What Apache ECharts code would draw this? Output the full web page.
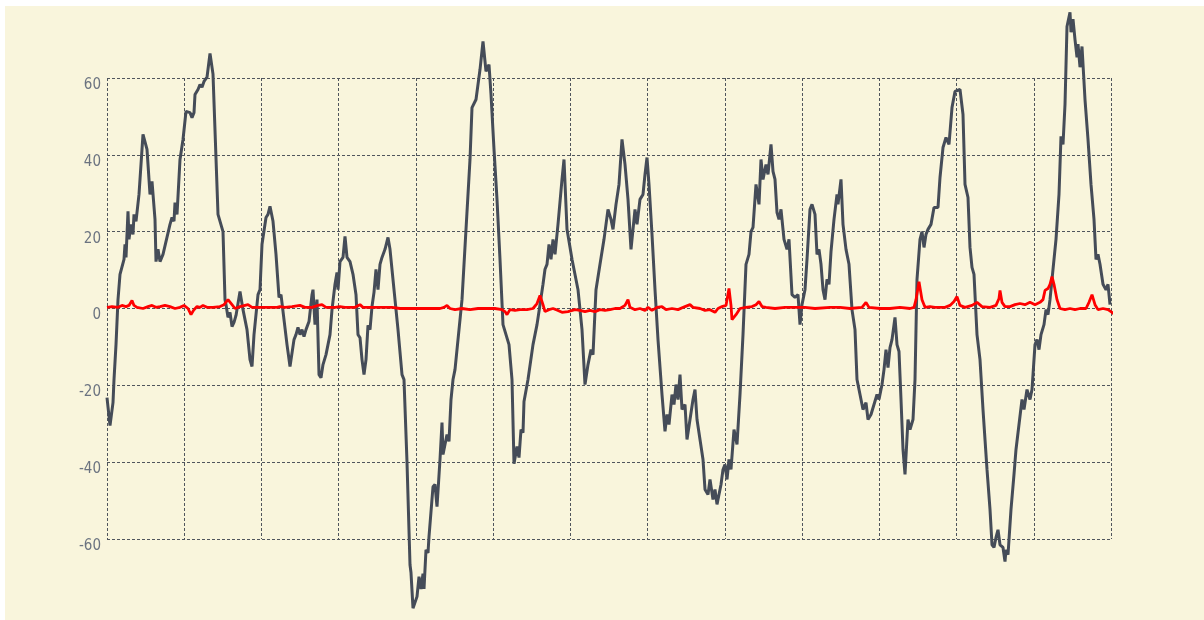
<!DOCTYPE html>
<html>
<head>
<meta charset="utf-8">
<script src="https://cdn.jsdelivr.net/npm/echarts@6/dist/echarts.min.js"></script>
<style>
  html, body { margin: 0; padding: 0; background: #ffffff; }
  #chart { position: absolute; left: 5px; top: 6px; width: 1199px; height: 614px; background: #f9f5dc; }
</style>
</head>
<body>
<div id="chart"></div>
<script>
// Sample range and split count of the horizontal axis
const sampleMax = 1004;
const xSplits = 13;

// Vertical axis ticks
const yTicks = [-60, -40, -20, 0, 20, 40, 60];

// Main signal: [sample, value]
const signal = [
  [0,-23.2],[3,-30.5],[6,-24.5],[7,-18.5],[9,-9.4],[11,2.3],[13,8.9],[17,12.8],[18,16.7],[19,13.3],
  [21,25.3],[22,18],[24,21.9],[26,19.3],[27,24.5],[29,22.7],[32,29.7],[36,45.3],[40,41.4],[43,29.7],
  [45,33.1],[48,23.2],[49,12.2],[51,15.4],[53,12.2],[56,14.1],[63,21.9],[65,23.7],[67,22.7],[68,27.6],
  [70,24.5],[71,29.2],[73,38.8],[76,44],[79,51.3],[83,51],[85,49.7],[87,51],[88,55.7],[91,57],
  [93,58.3],[95,57.6],[97,59.1],[100,60.2],[103,66.4],[106,61],[111,24.5],[116,20],[118,2.3],[119,1],
  [121,-2.3],[123,-1],[125,-4.7],[127,-3.6],[129,-1.8],[131,-2.3],[133,4.4],[136,-0.3],[140,-5.5],[143,-13.3],
  [145,-15.1],[147,-6.8],[149,-6.8],[151,3.6],[153,4.9],[155,16.7],[157,16.4],[159,23.7],[161,24.5],[163,26.6],
  [166,22.7],[169,14.1],[172,2.9],[174,3.6],[177,-2.9],[180,-9.4],[183,-15.1],[185,-14.6],[187,-8.1],[189,-6.8],
  [191,-4.9],[193,-6.8],[195,-5.5],[197,-7.3],[199,-5.5],[202,-3.4],[205,3.6],[206,4.9],[208,-4.2],[210,2.3],
  [212,-17.2],[214,-18],[216,-14.6],[219,-12],[221,-9.4],[223,-6.8],[225,-0.3],[228,6.3],[230,9.4],[231,4.9],
  [233,12.2],[236,13.3],[238,18.8],[240,13.3],[243,12.2],[246,8.9],[249,3.6],[251,-6.8],[253,-7.6],[255,-13.3],
  [257,-17.2],[259,-13.3],[261,-4.4],[263,-5.5],[265,0.5],[267,4.2],[269,10.2],[271,4.9],[273,11.5],[275,13.3],
  [278,15.4],[281,18.5],[283,15.4],[287,4.9],[291,-5.5],[295,-17.2],[297,-18.5],[300,-40],[303,-66.7],[304,-68.8],
  [306,-78],[310,-75],[312,-69.8],[314,-73],[316,-69],[317,-73],[319,-62.8],[321,-63.6],[322,-59.4],[326,-46.4],
  [328,-45.8],[330,-51.6],[333,-39.3],[335,-29.7],[336,-38],[340,-32.8],[342,-34.6],[344,-23.7],[346,-18.5],[348,-15.9],
  [351,-8.1],[355,2.3],[359,20.6],[363,38.8],[365,52.3],[369,54.4],[373,62.2],[376,69.5],[379,61.7],[382,63.5],
  [384,55.7],[387,41.4],[390,28.4],[393,12.8],[396,-4.2],[399,-6.8],[402,-9.4],[405,-18.5],[407,-40.4],[410,-35.9],
  [412,-38.8],[414,-31.5],[416,-32.3],[417,-24.2],[419,-23.7],[421,-18.5],[426,-9.4],[430,-4.2],[433,1],[436,6.3],
  [438,10.2],[440,11.5],[442,16.7],[444,12.8],[446,18],[448,14.1],[451,21.9],[455,33.6],[457,38.8],[460,20.6],
  [465,12.8],[471,4.9],[475,-5.5],[478,-19.8],[481,-14.6],[484,-10.7],[486,-12],[489,4.9],[493,11.5],[497,18],
  [501,25.8],[504,23.2],[506,20.6],[509,27.1],[512,32.3],[515,44],[518,37.5],[521,28.4],[524,15.4],[526,20.6],
  [528,25.8],[530,21.9],[533,28.4],[536,29.7],[538,34.9],[540,39.3],[542,32.3],[545,19.3],[548,4.9],[551,-8.1],
  [555,-22.4],[558,-32],[560,-27.6],[562,-30.2],[565,-22.4],[567,-25],[569,-19.8],[571,-23.7],[573,-17.2],[575,-26.3],
  [578,-25],[580,-34.1],[583,-28.9],[586,-23.7],[588,-21.1],[590,-28.9],[593,-34.1],[596,-39.3],[598,-47.1],[601,-48.4],
  [603,-44.5],[606,-49.7],[608,-47.1],[610,-51],[612,-48.4],[614,-45.8],[616,-41.9],[618,-40.6],[620,-44.5],[622,-39.3],
  [624,-41.9],[627,-31.5],[630,-35.4],[633,-22.4],[636,-6.8],[639,11.5],[642,14.1],[644,20],[646,21.1],[649,32.3],
  [652,27.1],[654,38.8],[656,33.6],[659,37.5],[661,34.9],[664,42.7],[666,35.7],[668,33.6],[670,25],[672,23.2],
  [674,25.8],[677,18],[680,15.4],[682,18],[685,3.6],[688,2.9],[691,3.6],[693,-4.2],[695,1],[698,4.9],
  [700,12.8],[703,25.8],[705,27.1],[708,24.5],[710,14.1],[712,15.4],[714,11.5],[716,4.9],[718,2.3],[720,7.6],
  [722,6.3],[724,14.8],[727,23.2],[730,29.7],[731,27.1],[734,33.6],[736,21.9],[739,15.4],[742,11.5],[745,-0.3],
  [748,-5.5],[750,-18.5],[753,-22.4],[756,-26.3],[759,-24.5],[761,-28.9],[764,-27.6],[767,-25],[770,-22.4],[772,-23.7],
  [775,-19.8],[777,-15.9],[779,-10.7],[781,-15.4],[783,-10.2],[785,-8.1],[788,-2.3],[790,-9.4],[792,-11.2],[794,-23.7],
  [796,-36.7],[798,-43.2],[801,-28.9],[803,-31.5],[806,-28.9],[808,-18.5],[810,7.6],[813,18],[815,20],[817,15.9],
  [819,19.3],[821,20.6],[824,21.9],[827,26.3],[831,26.3],[833,34.1],[836,41.9],[839,44.5],[842,42.7],[845,52.3],
  [848,56.5],[850,56.3],[853,57],[856,50.5],[858,32.3],[861,28.9],[863,15.9],[865,10.7],[867,8.9],[870,-6.8],
  [873,-13.3],[876,-26.3],[880,-41.9],[883,-52.3],[885,-61.5],[887,-62.2],[889,-59.6],[891,-57.6],[893,-61.5],[896,-62.2],
  [898,-65.9],[899,-62.8],[901,-64.1],[904,-52.3],[907,-43.2],[909,-36.7],[912,-30.2],[915,-23.7],[917,-26.3],[920,-21.1],
  [923,-23.7],[925,-21.1],[928,-9.4],[930,-8.1],[932,-10.7],[934,-6.8],[937,-4.2],[939,-0.3],[941,-1.6],[943,2.3],
  [946,10.2],[949,18],[952,29.7],[954,44.8],[956,42.7],[958,53.1],[960,73.4],[963,77.1],[964,71.9],[966,75.3],
  [968,70],[970,65.4],[971,68.8],[973,62.8],[975,68.2],[978,54.4],[981,44],[984,32.3],[987,23.2],[989,12.8],
  [991,14.1],[993,11.5],[996,6.3],[999,4.9],[1001,6.3],[1003,1]
];

// Residual trace: [sample, value]
const residual = [
  [0,0.3],[2,0],[5,0.5],[11,0.3],[15,0.8],[19,0.5],[22,0.8],[25,2.1],[27,0.8],[30,0.3],
  [36,0],[41,0.5],[45,0.8],[49,0.3],[53,0.5],[58,0.8],[63,0.5],[68,0],[73,0.3],[77,0.8],
  [81,0],[84,-1.6],[87,-0.3],[90,0.5],[93,0.3],[96,0.8],[100,0.3],[106,0.3],[113,0.5],[117,1],
  [121,2.3],[123,2.6],[125,1],[128,0],[133,0.5],[141,1],[145,0.3],[155,0.3],[163,0.3],[170,0.3],
  [173,0.5],[178,0.3],[185,0.5],[193,0.8],[198,0.3],[205,0.3],[211,0.8],[215,1],[219,0.3],[228,0.3],
  [233,0.5],[238,0.3],[248,0.3],[253,1],[256,0.3],[265,0.3],[273,0.3],[285,0.3],[293,0],[303,0],
  [313,0],[333,0],[337,0.3],[340,0.8],[343,0],[348,-0.3],[355,0],[363,-0.3],[371,0],[378,0],
  [388,0],[395,-0.3],[398,-0.8],[400,-1.6],[403,-0.3],[408,-0.5],[413,-0.3],[420,-0.3],[426,0],[430,1.3],
  [433,3.4],[436,1],[438,-0.8],[442,-0.3],[446,0],[451,-0.5],[455,-1],[461,-0.8],[468,-0.3],[473,-0.5],
  [478,-0.8],[483,-0.5],[488,-0.8],[493,-0.3],[498,-0.5],[503,-0.3],[508,0],[513,0],[518,0.8],[521,2.3],
  [523,0.3],[528,-0.3],[533,0],[538,-0.5],[541,0.3],[545,-0.5],[550,0.3],[555,0.5],[559,-0.3],[565,0],
  [571,-0.3],[578,0.5],[583,1],[586,0.3],[593,0],[598,-0.5],[603,-0.3],[608,-1],[611,0],[615,0.5],
  [619,0.8],[622,5.2],[624,0.8],[625,-2.9],[629,-1.6],[633,0],[639,0.3],[645,0.5],[649,1],[652,1.8],
  [655,0.5],[659,0.3],[668,0],[678,0.3],[688,0.3],[698,0.3],[708,0],[723,0.3],[733,0.3],[743,0],
  [755,0.3],[759,1.6],[762,0.3],[773,0],[783,0],[793,0.3],[803,0],[807,0.3],[809,2.3],[812,7],
  [815,2.3],[818,0.3],[823,0.5],[825,1],[828,0.3],[838,0.3],[843,0.8],[847,1.8],[850,3.1],[853,0.8],
  [858,0.3],[865,0.8],[870,1.6],[875,0.5],[883,0.3],[889,0.8],[892,2.6],[893,4.7],[895,1.6],[898,0.5],
  [903,0.5],[908,1],[913,1.3],[918,1],[923,1.6],[928,1],[933,1.6],[936,2.3],[938,4.7],[941,5.2],
  [943,6.3],[945,8.3],[947,6.3],[950,2.3],[953,0],[958,-0.3],[963,0],[968,-0.3],[973,0],[979,0],
  [982,1.6],[985,3.6],[988,1],[991,-0.3],[996,0],[1001,-0.3],[1005,-1],[1008,-1.6]
];

const gridLine = { show: true, lineStyle: { color: '#50555d', width: 1, type: [3, 2] } };

const chart = echarts.init(document.getElementById('chart'), null, { renderer: 'canvas' });
chart.setOption({
  animation: false,
  backgroundColor: 'transparent',
  grid: { left: 102, right: 93, top: 72, bottom: 81, containLabel: false },
  xAxis: {
    type: 'value',
    min: 0,
    max: sampleMax,
    interval: sampleMax / xSplits,
    axisLine: { show: false },
    axisTick: { show: false },
    axisLabel: { show: false },
    splitLine: gridLine
  },
  yAxis: {
    type: 'value',
    min: yTicks[0],
    max: yTicks[yTicks.length - 1],
    interval: yTicks[1] - yTicks[0],
    axisLine: { show: false },
    axisTick: { show: false },
    axisLabel: {
      margin: 6,
      formatter: '{t|{value}}',
      rich: {
        t: {
          color: '#6b7380',
          fontSize: 15,
          fontFamily: 'Liberation Sans Narrow, DejaVu Sans Condensed, sans-serif',
          padding: [14, 0, 0, 0]
        }
      }
    },
    splitLine: gridLine
  },
  series: [
    {
      type: 'line',
      data: signal,
      showSymbol: false,
      clip: false,
      lineStyle: { color: '#454c58', width: 3 },
      z: 2
    },
    {
      type: 'line',
      data: residual,
      showSymbol: false,
      clip: false,
      lineStyle: { color: '#ff0000', width: 2.8 },
      z: 3
    }
  ]
});
</script>
</body>
</html>
